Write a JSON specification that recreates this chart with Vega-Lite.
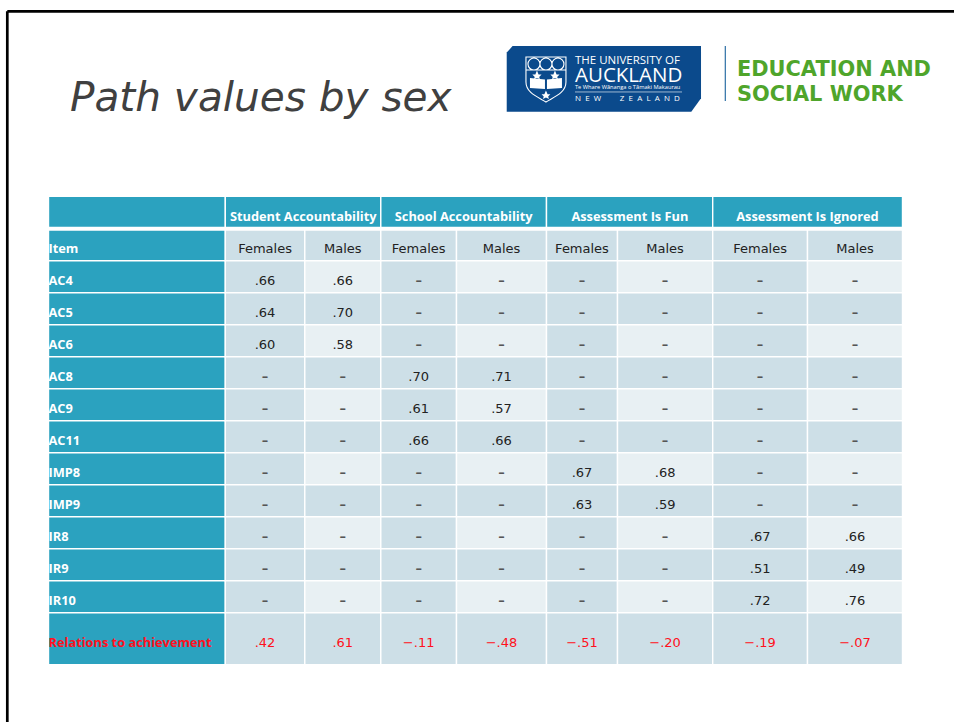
{
"$schema":"https://vega.github.io/schema/vega-lite/v6.json",
"width":954,"height":722,"padding":0,
"autosize":{"type":"fit","contains":"padding"},
"background":"white",
"config":{"view":{"stroke":null},"axis":{"domain":false,"ticks":false,"labels":false,"grid":false,"title":null}},
"datasets":{
"columns":[
{"col":"SA-F","group":"Student Accountability","sex":"Females","x0":1,"x1":2,"xm":1.5},
{"col":"SA-M","group":"Student Accountability","sex":"Males","x0":2,"x1":3,"xm":2.5},
{"col":"SC-F","group":"School Accountability","sex":"Females","x0":3,"x1":4,"xm":3.5},
{"col":"SC-M","group":"School Accountability","sex":"Males","x0":4,"x1":5,"xm":4.5},
{"col":"FU-F","group":"Assessment Is Fun","sex":"Females","x0":5,"x1":6,"xm":5.5},
{"col":"FU-M","group":"Assessment Is Fun","sex":"Males","x0":6,"x1":7,"xm":6.5},
{"col":"IG-F","group":"Assessment Is Ignored","sex":"Females","x0":7,"x1":8,"xm":7.5},
{"col":"IG-M","group":"Assessment Is Ignored","sex":"Males","x0":8,"x1":9,"xm":8.5}],
"rows":[
{"item":"Item","x0":0,"x1":1,"y0":2,"y1":3,"ym":2.5,"kind":"head"},
{"item":"AC4","x0":0,"x1":1,"y0":3,"y1":4,"ym":3.5,"kind":"head"},
{"item":"AC5","x0":0,"x1":1,"y0":4,"y1":5,"ym":4.5,"kind":"head"},
{"item":"AC6","x0":0,"x1":1,"y0":5,"y1":6,"ym":5.5,"kind":"head"},
{"item":"AC8","x0":0,"x1":1,"y0":6,"y1":7,"ym":6.5,"kind":"head"},
{"item":"AC9","x0":0,"x1":1,"y0":7,"y1":8,"ym":7.5,"kind":"head"},
{"item":"AC11","x0":0,"x1":1,"y0":8,"y1":9,"ym":8.5,"kind":"head"},
{"item":"IMP8","x0":0,"x1":1,"y0":9,"y1":10,"ym":9.5,"kind":"head"},
{"item":"IMP9","x0":0,"x1":1,"y0":10,"y1":11,"ym":10.5,"kind":"head"},
{"item":"IR8","x0":0,"x1":1,"y0":11,"y1":12,"ym":11.5,"kind":"head"},
{"item":"IR9","x0":0,"x1":1,"y0":12,"y1":13,"ym":12.5,"kind":"head"},
{"item":"IR10","x0":0,"x1":1,"y0":13,"y1":14,"ym":13.5,"kind":"head"},
{"item":"Relations to achievement","x0":0,"x1":1,"y0":14,"y1":15,"ym":14.5,"kind":"relation"}],
"cells":[
{"item":"Item","col":"SA-F","value":"Females","tone":"dark","kind":"value"},{"item":"Item","col":"SA-M","value":"Males","tone":"dark","kind":"value"},{"item":"Item","col":"SC-F","value":"Females","tone":"dark","kind":"value"},{"item":"Item","col":"SC-M","value":"Males","tone":"dark","kind":"value"},{"item":"Item","col":"FU-F","value":"Females","tone":"dark","kind":"value"},{"item":"Item","col":"FU-M","value":"Males","tone":"dark","kind":"value"},{"item":"Item","col":"IG-F","value":"Females","tone":"dark","kind":"value"},{"item":"Item","col":"IG-M","value":"Males","tone":"dark","kind":"value"},
{"item":"AC4","col":"SA-F","value":".66","tone":"dark","kind":"value"},{"item":"AC4","col":"SA-M","value":".66","tone":"light","kind":"value"},{"item":"AC4","col":"SC-F","value":"–","tone":"dark","kind":"dash"},{"item":"AC4","col":"SC-M","value":"–","tone":"light","kind":"dash"},{"item":"AC4","col":"FU-F","value":"–","tone":"dark","kind":"dash"},{"item":"AC4","col":"FU-M","value":"–","tone":"light","kind":"dash"},{"item":"AC4","col":"IG-F","value":"–","tone":"dark","kind":"dash"},{"item":"AC4","col":"IG-M","value":"–","tone":"light","kind":"dash"},
{"item":"AC5","col":"SA-F","value":".64","tone":"dark","kind":"value"},{"item":"AC5","col":"SA-M","value":".70","tone":"dark","kind":"value"},{"item":"AC5","col":"SC-F","value":"–","tone":"dark","kind":"dash"},{"item":"AC5","col":"SC-M","value":"–","tone":"dark","kind":"dash"},{"item":"AC5","col":"FU-F","value":"–","tone":"dark","kind":"dash"},{"item":"AC5","col":"FU-M","value":"–","tone":"dark","kind":"dash"},{"item":"AC5","col":"IG-F","value":"–","tone":"dark","kind":"dash"},{"item":"AC5","col":"IG-M","value":"–","tone":"dark","kind":"dash"},
{"item":"AC6","col":"SA-F","value":".60","tone":"dark","kind":"value"},{"item":"AC6","col":"SA-M","value":".58","tone":"light","kind":"value"},{"item":"AC6","col":"SC-F","value":"–","tone":"dark","kind":"dash"},{"item":"AC6","col":"SC-M","value":"–","tone":"light","kind":"dash"},{"item":"AC6","col":"FU-F","value":"–","tone":"dark","kind":"dash"},{"item":"AC6","col":"FU-M","value":"–","tone":"light","kind":"dash"},{"item":"AC6","col":"IG-F","value":"–","tone":"dark","kind":"dash"},{"item":"AC6","col":"IG-M","value":"–","tone":"light","kind":"dash"},
{"item":"AC8","col":"SA-F","value":"–","tone":"dark","kind":"dash"},{"item":"AC8","col":"SA-M","value":"–","tone":"dark","kind":"dash"},{"item":"AC8","col":"SC-F","value":".70","tone":"dark","kind":"value"},{"item":"AC8","col":"SC-M","value":".71","tone":"dark","kind":"value"},{"item":"AC8","col":"FU-F","value":"–","tone":"dark","kind":"dash"},{"item":"AC8","col":"FU-M","value":"–","tone":"dark","kind":"dash"},{"item":"AC8","col":"IG-F","value":"–","tone":"dark","kind":"dash"},{"item":"AC8","col":"IG-M","value":"–","tone":"dark","kind":"dash"},
{"item":"AC9","col":"SA-F","value":"–","tone":"dark","kind":"dash"},{"item":"AC9","col":"SA-M","value":"–","tone":"light","kind":"dash"},{"item":"AC9","col":"SC-F","value":".61","tone":"dark","kind":"value"},{"item":"AC9","col":"SC-M","value":".57","tone":"light","kind":"value"},{"item":"AC9","col":"FU-F","value":"–","tone":"dark","kind":"dash"},{"item":"AC9","col":"FU-M","value":"–","tone":"light","kind":"dash"},{"item":"AC9","col":"IG-F","value":"–","tone":"dark","kind":"dash"},{"item":"AC9","col":"IG-M","value":"–","tone":"light","kind":"dash"},
{"item":"AC11","col":"SA-F","value":"–","tone":"dark","kind":"dash"},{"item":"AC11","col":"SA-M","value":"–","tone":"dark","kind":"dash"},{"item":"AC11","col":"SC-F","value":".66","tone":"dark","kind":"value"},{"item":"AC11","col":"SC-M","value":".66","tone":"dark","kind":"value"},{"item":"AC11","col":"FU-F","value":"–","tone":"dark","kind":"dash"},{"item":"AC11","col":"FU-M","value":"–","tone":"dark","kind":"dash"},{"item":"AC11","col":"IG-F","value":"–","tone":"dark","kind":"dash"},{"item":"AC11","col":"IG-M","value":"–","tone":"dark","kind":"dash"},
{"item":"IMP8","col":"SA-F","value":"–","tone":"dark","kind":"dash"},{"item":"IMP8","col":"SA-M","value":"–","tone":"light","kind":"dash"},{"item":"IMP8","col":"SC-F","value":"–","tone":"dark","kind":"dash"},{"item":"IMP8","col":"SC-M","value":"–","tone":"light","kind":"dash"},{"item":"IMP8","col":"FU-F","value":".67","tone":"dark","kind":"value"},{"item":"IMP8","col":"FU-M","value":".68","tone":"light","kind":"value"},{"item":"IMP8","col":"IG-F","value":"–","tone":"dark","kind":"dash"},{"item":"IMP8","col":"IG-M","value":"–","tone":"light","kind":"dash"},
{"item":"IMP9","col":"SA-F","value":"–","tone":"dark","kind":"dash"},{"item":"IMP9","col":"SA-M","value":"–","tone":"dark","kind":"dash"},{"item":"IMP9","col":"SC-F","value":"–","tone":"dark","kind":"dash"},{"item":"IMP9","col":"SC-M","value":"–","tone":"dark","kind":"dash"},{"item":"IMP9","col":"FU-F","value":".63","tone":"dark","kind":"value"},{"item":"IMP9","col":"FU-M","value":".59","tone":"dark","kind":"value"},{"item":"IMP9","col":"IG-F","value":"–","tone":"dark","kind":"dash"},{"item":"IMP9","col":"IG-M","value":"–","tone":"dark","kind":"dash"},
{"item":"IR8","col":"SA-F","value":"–","tone":"dark","kind":"dash"},{"item":"IR8","col":"SA-M","value":"–","tone":"light","kind":"dash"},{"item":"IR8","col":"SC-F","value":"–","tone":"dark","kind":"dash"},{"item":"IR8","col":"SC-M","value":"–","tone":"light","kind":"dash"},{"item":"IR8","col":"FU-F","value":"–","tone":"dark","kind":"dash"},{"item":"IR8","col":"FU-M","value":"–","tone":"light","kind":"dash"},{"item":"IR8","col":"IG-F","value":".67","tone":"dark","kind":"value"},{"item":"IR8","col":"IG-M","value":".66","tone":"light","kind":"value"},
{"item":"IR9","col":"SA-F","value":"–","tone":"dark","kind":"dash"},{"item":"IR9","col":"SA-M","value":"–","tone":"dark","kind":"dash"},{"item":"IR9","col":"SC-F","value":"–","tone":"dark","kind":"dash"},{"item":"IR9","col":"SC-M","value":"–","tone":"dark","kind":"dash"},{"item":"IR9","col":"FU-F","value":"–","tone":"dark","kind":"dash"},{"item":"IR9","col":"FU-M","value":"–","tone":"dark","kind":"dash"},{"item":"IR9","col":"IG-F","value":".51","tone":"dark","kind":"value"},{"item":"IR9","col":"IG-M","value":".49","tone":"dark","kind":"value"},
{"item":"IR10","col":"SA-F","value":"–","tone":"dark","kind":"dash"},{"item":"IR10","col":"SA-M","value":"–","tone":"light","kind":"dash"},{"item":"IR10","col":"SC-F","value":"–","tone":"dark","kind":"dash"},{"item":"IR10","col":"SC-M","value":"–","tone":"light","kind":"dash"},{"item":"IR10","col":"FU-F","value":"–","tone":"dark","kind":"dash"},{"item":"IR10","col":"FU-M","value":"–","tone":"light","kind":"dash"},{"item":"IR10","col":"IG-F","value":".72","tone":"dark","kind":"value"},{"item":"IR10","col":"IG-M","value":".76","tone":"light","kind":"value"},
{"item":"Relations to achievement","col":"SA-F","value":".42","tone":"dark","kind":"relation"},{"item":"Relations to achievement","col":"SA-M","value":".61","tone":"dark","kind":"relation"},{"item":"Relations to achievement","col":"SC-F","value":"−.11","tone":"dark","kind":"relation"},{"item":"Relations to achievement","col":"SC-M","value":"−.48","tone":"dark","kind":"relation"},{"item":"Relations to achievement","col":"FU-F","value":"−.51","tone":"dark","kind":"relation"},{"item":"Relations to achievement","col":"FU-M","value":"−.20","tone":"dark","kind":"relation"},{"item":"Relations to achievement","col":"IG-F","value":"−.19","tone":"dark","kind":"relation"},{"item":"Relations to achievement","col":"IG-M","value":"−.07","tone":"dark","kind":"relation"}
]},
"encoding":{
"x":{"field":"a","type":"quantitative","axis":null,"scale":{"domain":[-1,0,1,2,3,4,5,6,7,8,9,10],"range":[7.3,48.5,225.3,304.8,380.8,456.5,546.5,617.5,712.7,807.5,902.5,954],"nice":false,"zero":false}},
"y":{"field":"b","type":"quantitative","axis":null,"scale":{"domain":[-1,0,1,2,3,4,5,6,7,8,9,10,11,12,13,14,15,16],"range":[11.3,196.3,227.4,230,260.7,292.7,324.7,356.7,388.7,420.7,452.7,484.7,516.7,548.7,580.7,612.7,664.7,722],"nice":false,"zero":false}}
},
"layer":[
{"data":{"values":[{"a":-1,"a2":10,"b":-1,"b2":-1},{"a":-1,"a2":-1,"b":-1,"b2":16}]},
 "mark":{"type":"rule","color":"black","strokeWidth":2.7},
 "encoding":{"x2":{"field":"a2"},"y2":{"field":"b2"}}},
{"data":{"values":[{"a":0,"a2":1,"b":0,"b2":1},{"a":1,"a2":3,"b":0,"b2":1},{"a":3,"a2":5,"b":0,"b2":1},{"a":5,"a2":7,"b":0,"b2":1},{"a":7,"a2":9,"b":0,"b2":1}]},
 "mark":{"type":"rect","fill":"#2BA2BF","stroke":"white","strokeWidth":1.4},
 "encoding":{"x2":{"field":"a2"},"y2":{"field":"b2"}}},
{"data":{"name":"rows"},
 "mark":{"type":"rect","fill":"#2BA2BF","stroke":"white","strokeWidth":1.4},
 "encoding":{"x":{"field":"x0","type":"quantitative"},"x2":{"field":"x1"},"y":{"field":"y0","type":"quantitative"},"y2":{"field":"y1"}}},
{"data":{"name":"cells"},
 "transform":[
  {"lookup":"col","from":{"data":{"name":"columns"},"key":"col","fields":["x0","x1","xm"]}},
  {"lookup":"item","from":{"data":{"name":"rows"},"key":"item","fields":["y0","y1","ym"]}}],
 "layer":[
  {"mark":{"type":"rect","stroke":"white","strokeWidth":1.4},
   "encoding":{"x":{"field":"x0","type":"quantitative"},"x2":{"field":"x1"},"y":{"field":"y0","type":"quantitative"},"y2":{"field":"y1"},
    "fill":{"field":"tone","type":"nominal","legend":null,"scale":{"domain":["dark","light"],"range":["#CDDFE7","#E8F0F3"]}}}},
  {"transform":[{"filter":"datum.kind !== 'dash'"}],
   "mark":{"type":"text","font":"DejaVu Sans","fontSize":13,"align":"center","baseline":"middle","dy":4},
   "encoding":{"x":{"field":"xm","type":"quantitative"},"y":{"field":"ym","type":"quantitative"},"text":{"field":"value"},
    "color":{"field":"kind","type":"nominal","legend":null,"scale":{"domain":["value","dash","relation","head"],"range":["#222222","#555555","#FF1020","#FFFFFF"]}}}},
  {"transform":[{"filter":"datum.kind === 'dash'"}],
   "mark":{"type":"text","font":"DejaVu Sans","fontWeight":"bold","fontSize":13,"align":"center","baseline":"middle","dy":4},
   "encoding":{"x":{"field":"xm","type":"quantitative"},"y":{"field":"ym","type":"quantitative"},"text":{"field":"value"},
    "color":{"field":"kind","type":"nominal","legend":null,"scale":{"domain":["value","dash","relation","head"],"range":["#222222","#666666","#FF1020","#FFFFFF"]}}}}
 ]},
{"data":{"name":"rows"},
 "mark":{"type":"text","font":"Open Sans","fontWeight":"bold","fontSize":12.8,"align":"left","baseline":"middle","dy":4},
 "encoding":{"x":{"field":"x0","type":"quantitative"},"y":{"field":"ym","type":"quantitative"},"text":{"field":"item"},
  "color":{"field":"kind","type":"nominal","legend":null,"scale":{"domain":["value","dash","relation","head"],"range":["#222222","#666666","#FF1020","#FFFFFF"]}}}},
{"data":{"values":[{"a":1.98,"b":0.5,"t":"Student Accountability"},{"a":4.08,"b":0.5,"t":"School Accountability"},{"a":6.13,"b":0.5,"t":"Assessment Is Fun"},{"a":8,"b":0.5,"t":"Assessment Is Ignored"}]},
 "mark":{"type":"text","font":"Open Sans","fontWeight":"bold","fontSize":12.8,"align":"center","baseline":"middle","dy":5,"color":"white"},
 "encoding":{"text":{"field":"t"}}},
{"data":{"values":[{"a":0.1216,"b":-0.461,"t":"Path values by sex"}]},
 "mark":{"type":"text","font":"DejaVu Sans","fontStyle":"italic","fontSize":40.6,"align":"left","baseline":"alphabetic","color":"#404040"},
 "encoding":{"text":{"field":"t"}}},
{"data":{"values":[{"a":5.808,"b":-0.635}]},
 "mark":{"type":"point","filled":true,"opacity":1,"size":37752,"color":"#0B4A8C","strokeWidth":0,"shape":"M-0.94,-0.338 L1,-0.338 L1,0.2 L0.9,0.338 L-1,0.338 L-1,-0.27 Z"}},
{"data":{"values":[{"a":4.994,"b":-0.634}]},
 "mark":{"type":"point","filled":false,"opacity":1,"size":1600,"stroke":"white","strokeWidth":1.1,"shape":"M-1,-1.1 L1,-1.1 L1,0.15 C1,0.7 0.4,0.9 0,1.15 C-0.4,0.9 -1,0.7 -1,0.15 Z M-1,-0.45 L1,-0.45 M-0.9,-0.75 A0.3,0.3 0 1 1 -0.3,-0.75 A0.3,0.3 0 1 1 -0.9,-0.75 M-0.3,-0.75 A0.3,0.3 0 1 1 0.3,-0.75 A0.3,0.3 0 1 1 -0.3,-0.75 M0.3,-0.75 A0.3,0.3 0 1 1 0.9,-0.75 A0.3,0.3 0 1 1 0.3,-0.75"}},
{"data":{"values":[{"a":4.994,"b":-0.634}]},
 "mark":{"type":"point","filled":true,"opacity":1,"size":1600,"color":"white","strokeWidth":0,"shape":"M-0.8,-0.05 L-0.05,0.02 L-0.05,0.5 L-0.8,0.45 Z M0.05,0.02 L0.8,-0.05 L0.8,0.45 L0.05,0.5 Z M-0.45,-0.42 L-0.37,-0.22 L-0.22,-0.22 L-0.34,-0.1 L-0.3,0 L-0.45,-0.05 L-0.6,0 L-0.56,-0.1 L-0.68,-0.22 L-0.53,-0.22 Z M0.45,-0.42 L0.53,-0.22 L0.68,-0.22 L0.56,-0.1 L0.6,0 L0.45,-0.05 L0.3,0 L0.34,-0.1 L0.22,-0.22 L0.37,-0.22 Z M0,0.58 L0.08,0.76 L0.22,0.76 L0.11,0.87 L0.15,1 L0,0.93 L-0.15,1 L-0.11,0.87 L-0.22,0.76 L-0.08,0.76 Z"}},
{"data":{"values":[{"a":5.401,"b":-0.715,"t":"THE UNIVERSITY OF"}]},
 "mark":{"type":"text","font":"Open Sans","fontSize":11.5,"align":"left","baseline":"alphabetic","color":"white"},
 "encoding":{"text":{"field":"t"}}},
{"data":{"values":[{"a":5.401,"b":-0.62,"t":"AUCKLAND"}]},
 "mark":{"type":"text","font":"Open Sans","fontSize":20.5,"align":"left","baseline":"alphabetic","color":"white"},
 "encoding":{"text":{"field":"t"}}},
{"data":{"values":[{"a":5.401,"b":-0.578,"t":"Te Whare Wānanga o Tāmaki Makaurau"}]},
 "mark":{"type":"text","font":"Open Sans","fontSize":5.7,"align":"left","baseline":"alphabetic","color":"white"},
 "encoding":{"text":{"field":"t"}}},
{"data":{"values":[{"a":5.401,"a2":6.678,"b":-0.564}]},
 "mark":{"type":"rule","color":"white","strokeWidth":0.6},
 "encoding":{"x2":{"field":"a2"}}},
{"data":{"values":[{"a":5.401,"b":-0.515,"t":"N\u00a0\u00a0E\u00a0\u00a0W\u00a0\u00a0\u00a0\u00a0\u00a0\u00a0\u00a0\u00a0\u00a0Z\u00a0\u00a0E\u00a0\u00a0A\u00a0\u00a0L\u00a0\u00a0A\u00a0\u00a0N\u00a0\u00a0D"}]},
 "mark":{"type":"text","font":"Open Sans","fontSize":8,"align":"left","baseline":"alphabetic","color":"white"},
 "encoding":{"text":{"field":"t"}}},
{"data":{"values":[{"a":7.133,"b":-0.8124,"b2":-0.515}]},
 "mark":{"type":"rule","color":"#2C6FA5","strokeWidth":1.2},
 "encoding":{"y2":{"field":"b2"}}},
{"data":{"values":[{"a":7.256,"b":-0.65,"t":"EDUCATION AND"},{"a":7.256,"b":-0.5135,"t":"SOCIAL WORK"}]},
 "mark":{"type":"text","font":"DejaVu Sans","fontWeight":"bold","fontSize":20.9,"align":"left","baseline":"alphabetic","color":"#4FA52B"},
 "encoding":{"text":{"field":"t"}}}
]
}
